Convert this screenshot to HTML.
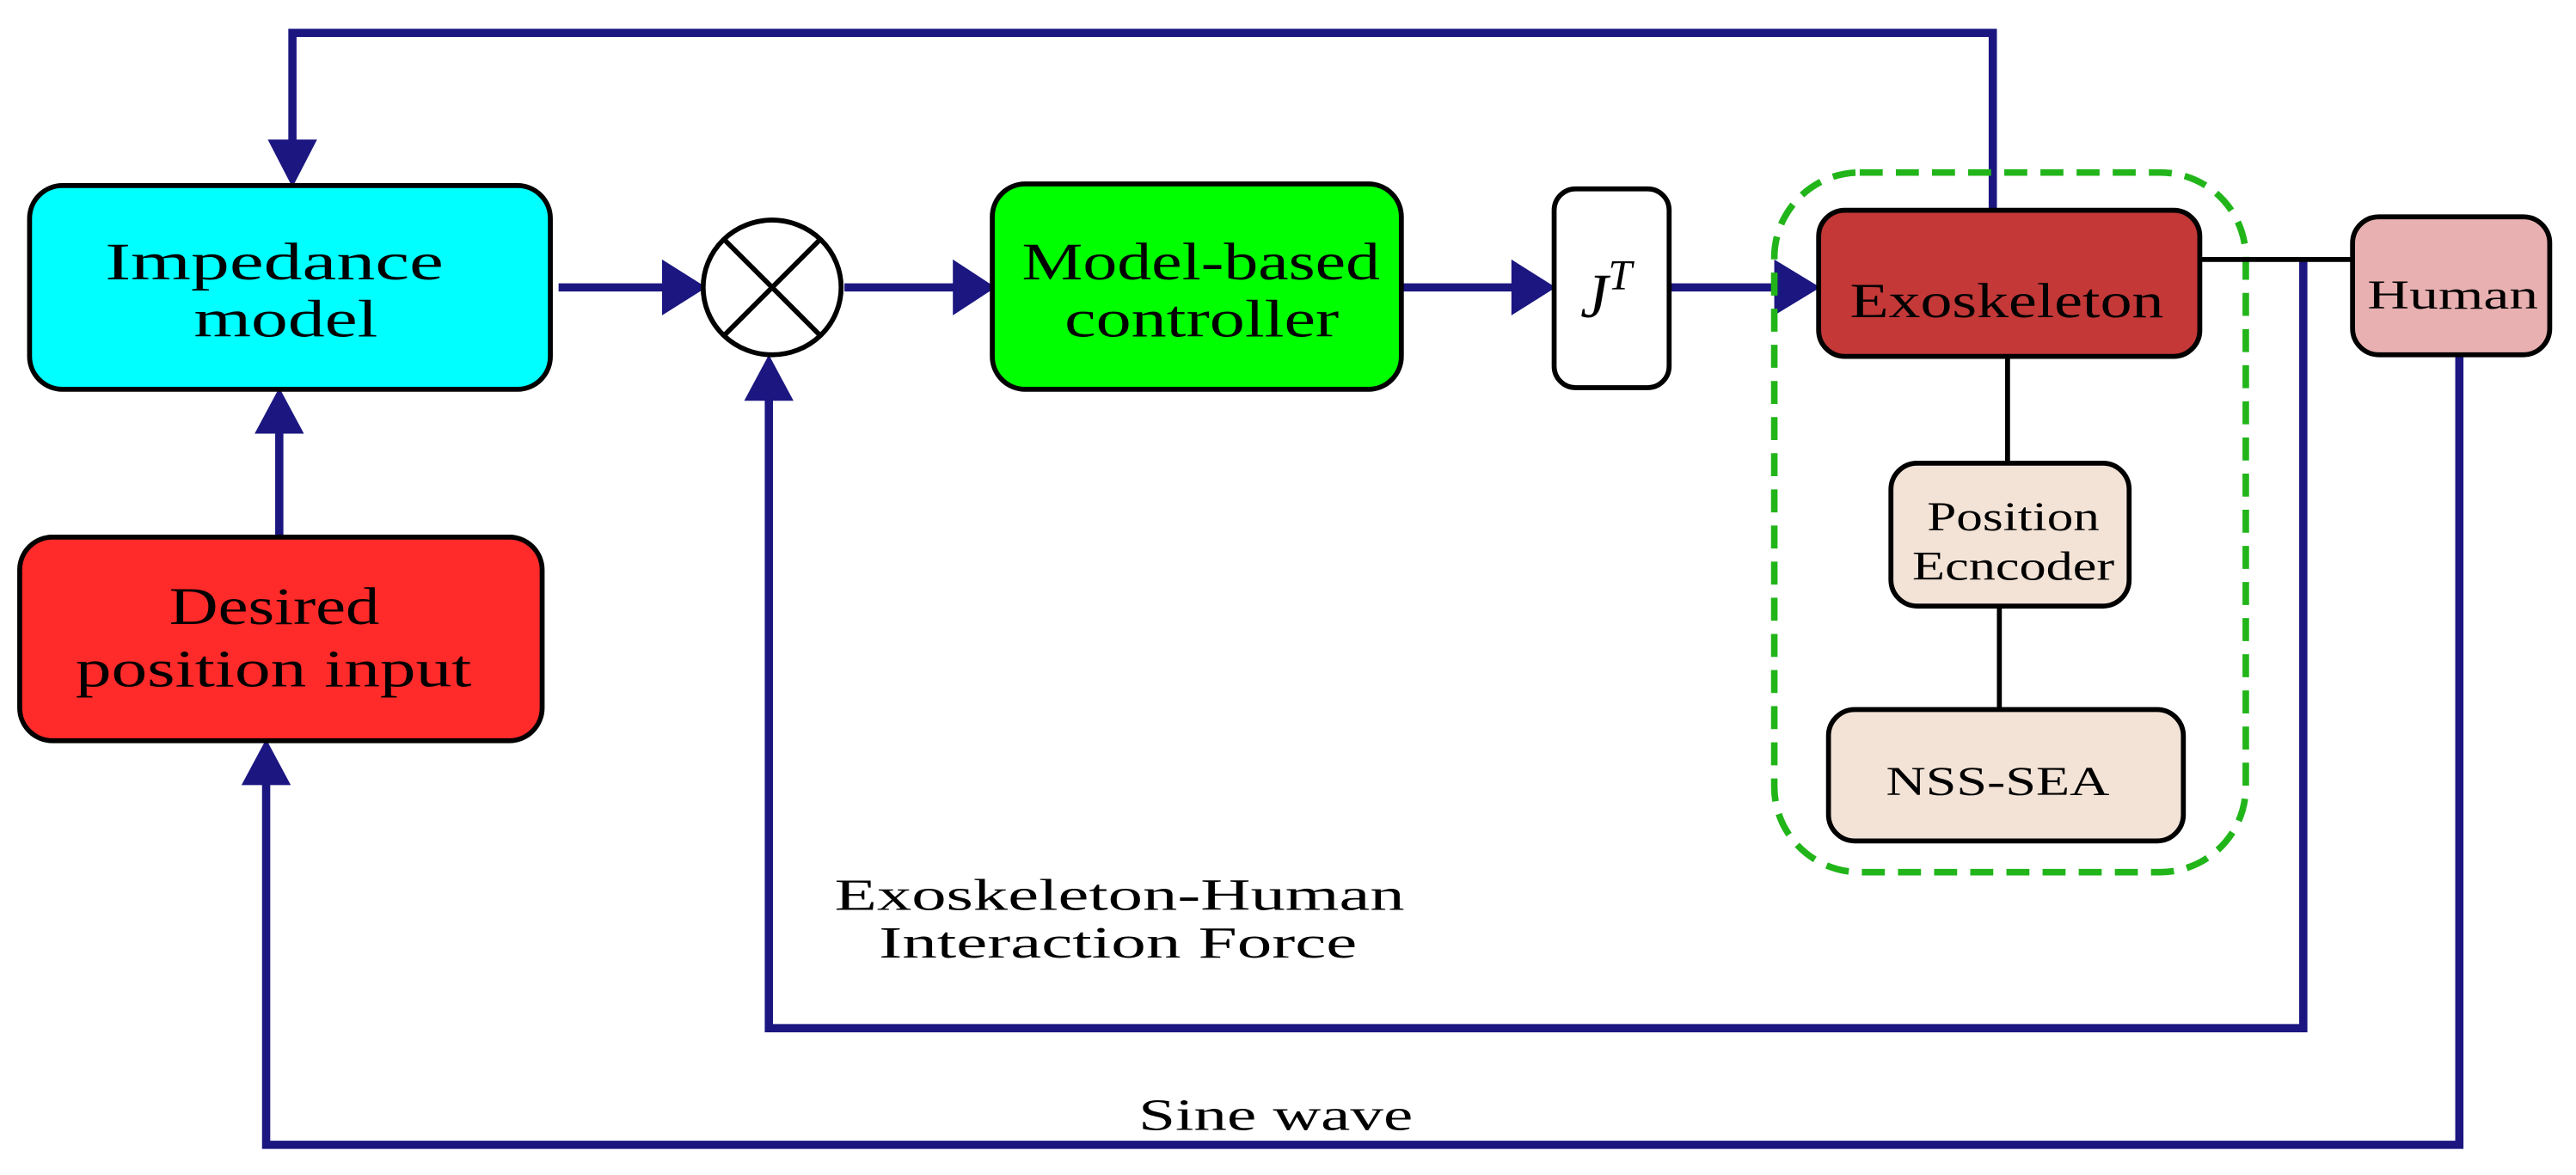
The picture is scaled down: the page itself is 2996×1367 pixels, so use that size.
<!DOCTYPE html>
<html><head><meta charset="utf-8"><style>html,body{margin:0;padding:0;background:#fff}svg{display:block}</style></head>
<body>
<svg width="2996" height="1367" viewBox="0 0 1568 715.4" preserveAspectRatio="none" xmlns="http://www.w3.org/2000/svg" font-family="Liberation Serif, serif">
<g fill="none" stroke="#1b1680" stroke-width="5">
<polyline points="1213,128 1213,20 178,20 178,88"/>
<line x1="170" y1="327" x2="170" y2="262"/>
<line x1="340" y1="175" x2="405" y2="175"/>
<line x1="514" y1="175" x2="582" y2="175"/>
<line x1="853" y1="175" x2="922" y2="175"/>
<line x1="1016" y1="175" x2="1083" y2="175"/>
<polyline points="1402,158 1402,626 468,626 468,242"/>
<polyline points="1497,216 1497,697 162,697 162,476"/>
</g>
<g fill="#1b1680">
<polygon points="163,85 193,85 178,114"/>
<polygon points="155,264 185,264 170,236"/>
<polygon points="403,158 403,192 430,175"/>
<polygon points="580,158 580,192 606,175"/>
<polygon points="920,158 920,192 947,175"/>
<polygon points="1080,158 1080,192 1108,175"/>
<polygon points="453,244 483,244 468,216"/>
<polygon points="147,478 177,478 162,450"/>
</g>
<rect x="1080" y="105" width="287" height="426" rx="52" fill="none" stroke="#22b51a" stroke-width="4" stroke-dasharray="14,8"/>
<g stroke="#000" stroke-width="3">
<line x1="1339" y1="158" x2="1432" y2="158"/>
<line x1="1222" y1="217" x2="1222" y2="282"/>
<line x1="1217" y1="369" x2="1217" y2="432"/>
<rect x="18" y="113" width="317" height="124" rx="20" fill="#00ffff"/>
<rect x="12" y="327" width="318" height="124" rx="20" fill="#ff2a2a"/>
<rect x="604" y="112" width="249" height="125" rx="20" fill="#00ff00"/>
<rect x="946" y="115" width="70" height="121" rx="13" fill="#fff"/>
<rect x="1107" y="128" width="232" height="89" rx="16" fill="#c43838"/>
<rect x="1432" y="132" width="120" height="84" rx="16" fill="#e8b0b0"/>
<rect x="1151" y="282" width="145" height="87" rx="16" fill="#f3e3d7"/>
<rect x="1113" y="432" width="216" height="80" rx="16" fill="#f3e3d7"/>
<ellipse cx="470" cy="175" rx="42" ry="41" fill="#fff"/>
<line x1="441" y1="146" x2="499" y2="204"/>
<line x1="499" y1="146" x2="441" y2="204"/>
</g>
<g fill="#000" lengthAdjust="spacingAndGlyphs">
<text x="64" y="170" font-size="32" textLength="206" lengthAdjust="spacingAndGlyphs">Impedance</text>
<text x="118" y="205" font-size="32" textLength="112" lengthAdjust="spacingAndGlyphs">model</text>
<text x="103" y="380" font-size="32" textLength="128" lengthAdjust="spacingAndGlyphs">Desired</text>
<text x="46" y="418" font-size="32" textLength="241" lengthAdjust="spacingAndGlyphs">position input</text>
<text x="622" y="170" font-size="32" textLength="218" lengthAdjust="spacingAndGlyphs">Model-based</text>
<text x="648" y="205" font-size="32" textLength="167" lengthAdjust="spacingAndGlyphs">controller</text>
<text x="962" y="193" font-size="38" font-style="italic">J<tspan font-size="26" dy="-17">T</tspan></text>
<text x="1126" y="193" font-size="30" textLength="191" lengthAdjust="spacingAndGlyphs">Exoskeleton</text>
<text x="1441" y="188" font-size="25" textLength="104" lengthAdjust="spacingAndGlyphs">Human</text>
<text x="1173" y="323" font-size="25" textLength="105" lengthAdjust="spacingAndGlyphs">Position</text>
<text x="1164" y="353" font-size="25" textLength="123" lengthAdjust="spacingAndGlyphs">Ecncoder</text>
<text x="1148" y="484" font-size="25" textLength="136" lengthAdjust="spacingAndGlyphs">NSS-SEA</text>
<text x="508" y="554" font-size="27" textLength="347" lengthAdjust="spacingAndGlyphs">Exoskeleton-Human</text>
<text x="535" y="583" font-size="27" textLength="291" lengthAdjust="spacingAndGlyphs">Interaction Force</text>
<text x="693" y="688" font-size="27" textLength="167" lengthAdjust="spacingAndGlyphs">Sine wave</text>
</g>
</svg>
</body></html>
